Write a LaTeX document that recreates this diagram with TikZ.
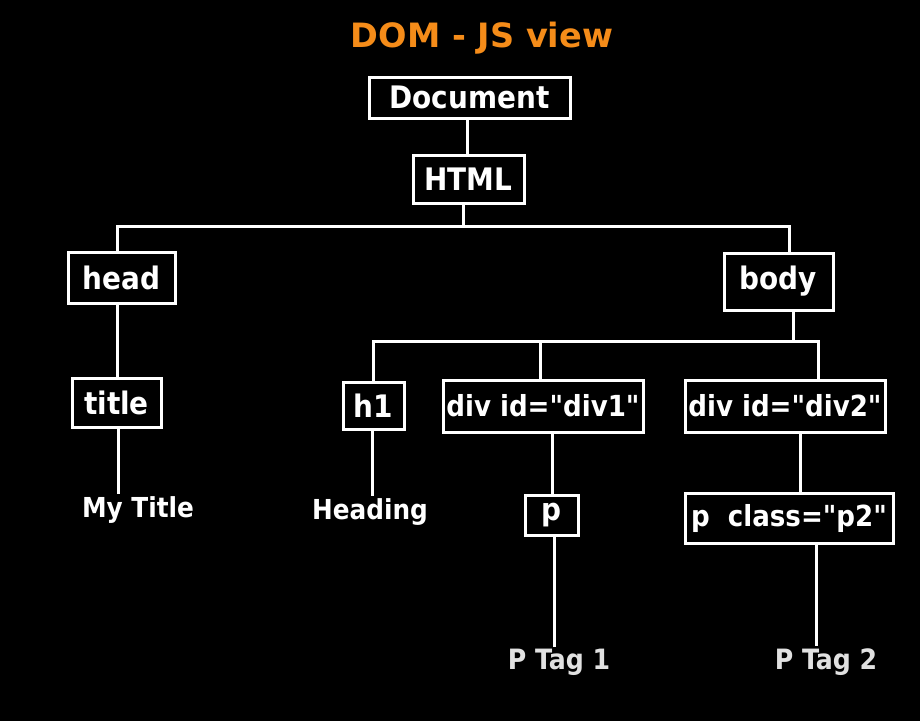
\documentclass[tikz,border=0pt]{standalone}
\usepackage{fontspec}
\setmainfont{DejaVu Sans Condensed}[BoldFont={DejaVu Sans Condensed Bold},Ligatures=TeXOff]
\newfontfamily\titlefont{DejaVu Sans}[BoldFont={DejaVu Sans Bold}]
\definecolor{titleorange}{RGB}{245,140,25}
\definecolor{taggrey}{RGB}{225,225,225}
\begin{document}
\begin{tikzpicture}[x=1pt,y=-1pt,
  box/.style={draw=white,line width=3pt,text=white,font=\fontsize{31}{34}\selectfont\bfseries,inner sep=0pt,anchor=center},
  divbox/.style={box,font=\fontsize{29}{32}\selectfont\bfseries},
  leaf/.style={text=white,font=\fontsize{27.5}{30}\selectfont\bfseries,inner sep=2pt},
  tag/.style={text=taggrey,font=\fontsize{28}{30}\selectfont\bfseries,inner sep=2pt},
  link/.style={draw=white,line width=3pt}]
\fill[black] (0,0) rectangle (920,721);
\useasboundingbox (0,0) rectangle (920,721);

\node[text=titleorange,font=\fontsize{33.5}{36}\titlefont\bfseries] (ttl) at (482,38) {DOM - JS view};

\node[box,minimum width=201pt,minimum height=41pt] (doc) at (469.5,97.5) {Document};
\node[box,minimum width=111pt,minimum height=48pt] (html) at (468.5,179) {HTML};
\node[box,minimum width=107pt,minimum height=51pt] (head) at (121.5,277.5) {head};
\node[box,minimum width=109pt,minimum height=57pt] (body) at (778.5,281.5) {body};
\node[box,minimum width=89pt,minimum height=49pt] (title) at (116.5,402.5) {title};
\node[box,minimum width=61pt,minimum height=47pt] (h1) at (373.5,405.5) {h1};
\node[divbox,minimum width=200pt,minimum height=52pt] (div1) at (543,406) {div id="div1"};
\node[divbox,minimum width=200pt,minimum height=52pt] (div2) at (785,406) {div id="div2"};
\node[box,minimum width=53pt,minimum height=40pt] (p1) at (551.5,515) {p};
\node[divbox,minimum width=208pt,minimum height=50pt] (p2) at (789,518) {p\ \ class="p2"};

\node[leaf] (mytitle) at (138,510) {My Title};
\node[leaf] (heading) at (370,512) {Heading};
\node[tag] (tag1) at (559,662) {P Tag 1};
\node[tag] (tag2) at (826,662) {P Tag 2};

% connectors
\draw[link] ([xshift=-2.5pt]doc.south) -- ([xshift=-1.5pt]html.north);
\coordinate (hb) at (463,226);
\draw[link] ([xshift=-5.5pt]html.south) -- (hb);
\draw[link] ([xshift=-4.5pt]head.north) |- (hb) -| ([xshift=10.5pt]body.north);
\draw[link] ([xshift=-4.5pt]head.south) -- ([xshift=-4.5pt]head.south |- title.north);

\coordinate (bb) at (793,341);
\draw[link] ([xshift=14.5pt]body.south) -- (bb);
\draw[link] ([xshift=-0.5pt]h1.north) |- (bb) -| ([xshift=33pt]div2.north);
\coordinate (dj) at (540,341);
\draw[link] (dj) -- (dj |- div1.north);

\draw[link] ([xshift=1.5pt]title.south) -- ([xshift=1.5pt]title.south |- mytitle.north);
\draw[link] ([xshift=-1.5pt]h1.south) -- ([xshift=-1.5pt]h1.south |- heading.north);
\draw[link] ([xshift=9pt]div1.south) -- ([xshift=0.5pt]p1.north);
\draw[link] ([xshift=15pt]div2.south) -- ([xshift=15pt]div2.south |- p2.north);
\draw[link] ([xshift=2.5pt]p1.south) -- ([xshift=2.5pt]p1.south |- tag1.north);
\draw[link] ([xshift=27pt]p2.south) -- ([xshift=27pt]p2.south |- tag2.north);
\end{tikzpicture}
\end{document}
